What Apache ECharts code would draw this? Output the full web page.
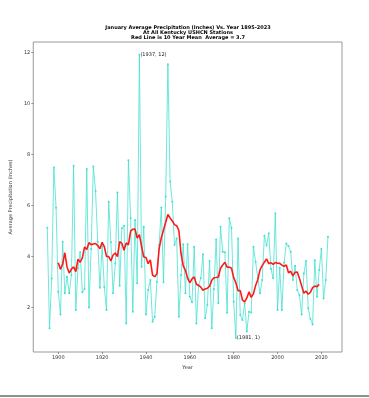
<!DOCTYPE html>
<html>
<head>
<meta charset="utf-8">
<script src="https://cdn.jsdelivr.net/npm/echarts@6/dist/echarts.min.js"></script>
<style>html,body{margin:0;padding:0;background:#fff;}#c{width:369px;height:398px;}</style>
</head>
<body>
<div id="c"></div>
<script>
// January average precipitation (inches), Kentucky USHCN, 1895-2023
const startYear = 1895;
const precip = [
  5.12, 1.18, 3.13, 7.48, 5.90, 2.61, 1.72, 4.57, 2.55, 3.20, // 1895-1904
  2.55, 3.27, 7.55, 1.90, 3.53, 4.16, 2.59, 2.72, 7.42, 1.99, // 1905-1914
  4.29, 7.52, 6.56, 4.57, 2.77, 4.40, 2.80, 1.90, 6.14, 4.55, // 1915-1924
  2.55, 3.72, 6.50, 2.85, 5.10, 5.20, 1.37, 7.77, 5.50, 1.83, // 1925-1934
  5.42, 2.94, 11.90, 3.59, 5.16, 1.72, 2.68, 3.07, 1.44, 1.63, // 1935-1944
  3.00, 4.44, 5.91, 2.98, 6.34, 11.53, 6.93, 6.14, 4.44, 4.70, // 1945-1954
  1.63, 3.27, 4.47, 2.55, 4.47, 2.42, 2.20, 4.38, 1.37, 2.87, // 1955-1964
  3.14, 4.08, 1.57, 2.09, 3.82, 1.18, 2.72, 4.66, 2.16, 5.16, // 1965-1974
  4.18, 4.16, 1.79, 5.49, 5.12, 2.22, 0.80, 4.70, 1.70, 1.50, // 1975-1984
  2.16, 1.05, 1.83, 1.80, 4.38, 3.79, 3.14, 2.55, 3.07, 4.81, // 1985-1994
  4.42, 4.90, 3.50, 3.14, 5.69, 1.90, 3.55, 1.90, 3.76, 4.50, // 1995-2004
  4.40, 4.18, 3.07, 3.63, 2.68, 2.48, 1.72, 3.33, 3.82, 1.96, // 2005-2014
  1.54, 1.33, 3.85, 2.42, 3.46, 4.29, 2.35, 3.07, 4.77        // 2015-2023
];
const xTicks = [1900, 1920, 1940, 1960, 1980, 2000, 2020];
const yTicks = [2, 4, 6, 8, 10, 12];
const annotations = [
  { year: 1937, text: '(1937, 12)' },
  { year: 1981, text: '(1981, 1)' }
];
const windowSize = 10;

const years = precip.map((_, i) => startYear + i);

// 10 year centred mean (window i-5 .. i+4)
const meanData = [];
for (let i = 5; i + 4 < precip.length; i++) {
  let s = 0;
  for (let k = i - 5; k <= i + 4; k++) s += precip[k];
  meanData.push([years[i], s / windowSize]);
}

const font = 'DejaVu Sans';
const rawData = years.map((y, i) => {
  const a = annotations.find(d => d.year === y);
  if (!a) return [y, precip[i]];
  return {
    value: [y, precip[i]],
    label: {
      show: true, formatter: a.text, position: 'right', distance: 0,
      fontFamily: font, fontSize: 5, color: '#222'
    }
  };
});

const chart = echarts.init(document.getElementById('c'), null, { renderer: 'canvas' });
chart.setOption({
  animation: false,
  backgroundColor: '#fff',
  title: {
    text: 'January Average Precipitation (Inches) Vs. Year 1895-2023\nAt All Kentucky USHCN Stations\nRed Line is 10 Year Mean  Average = 3.7',
    left: 183, top: 20, textAlign: 'center',
    textStyle: { fontFamily: font, fontSize: 5, fontWeight: 'bold', color: '#000', lineHeight: 5 }
  },
  graphic: [{
    type: 'line', shape: { x1: 0, y1: 396, x2: 369, y2: 396 },
    style: { stroke: '#222', lineWidth: 1 }, silent: true
  }],
  grid: {
    left: 24, top: 42, right: 27, bottom: 46,
    show: true, borderColor: '#999', borderWidth: 1, backgroundColor: '#fff'
  },
  xAxis: {
    type: 'value', min: 1888.6, max: 2029.4,
    name: 'Year', nameLocation: 'middle', nameGap: 10,
    nameTextStyle: { fontFamily: font, fontSize: 5, color: '#333' },
    axisLine: { show: false },
    axisTick: { show: true, length: 2, lineStyle: { color: '#555', width: 0.6 }, customValues: xTicks },
    axisLabel: { fontFamily: font, fontSize: 5, color: '#333', margin: 3, customValues: xTicks,
      formatter: v => String(v) },
    splitLine: { show: false }
  },
  yAxis: {
    type: 'value', min: 0.25, max: 12.4,
    name: 'Average Precipitation (Inches)', nameLocation: 'middle', nameGap: 12,
    nameTextStyle: { fontFamily: font, fontSize: 5, color: '#333' },
    axisLine: { show: false },
    axisTick: { show: true, length: 2, lineStyle: { color: '#555', width: 0.6 }, customValues: yTicks },
    axisLabel: { fontFamily: font, fontSize: 5, color: '#333', margin: 3, customValues: yTicks,
      formatter: v => String(v) },
    splitLine: { show: false }
  },
  series: [
    {
      type: 'line', data: rawData,
      symbol: 'circle', symbolSize: 2, showSymbol: true,
      lineStyle: { color: '#40E0D0', width: 0.9, opacity: 0.85 },
      itemStyle: { color: '#40E0D0' },
      z: 2
    },
    {
      type: 'line', data: meanData,
      symbol: 'none',
      lineStyle: { color: '#ff1a1a', width: 1.6 },
      z: 3
    }
  ]
});
</script>
</body>
</html>
